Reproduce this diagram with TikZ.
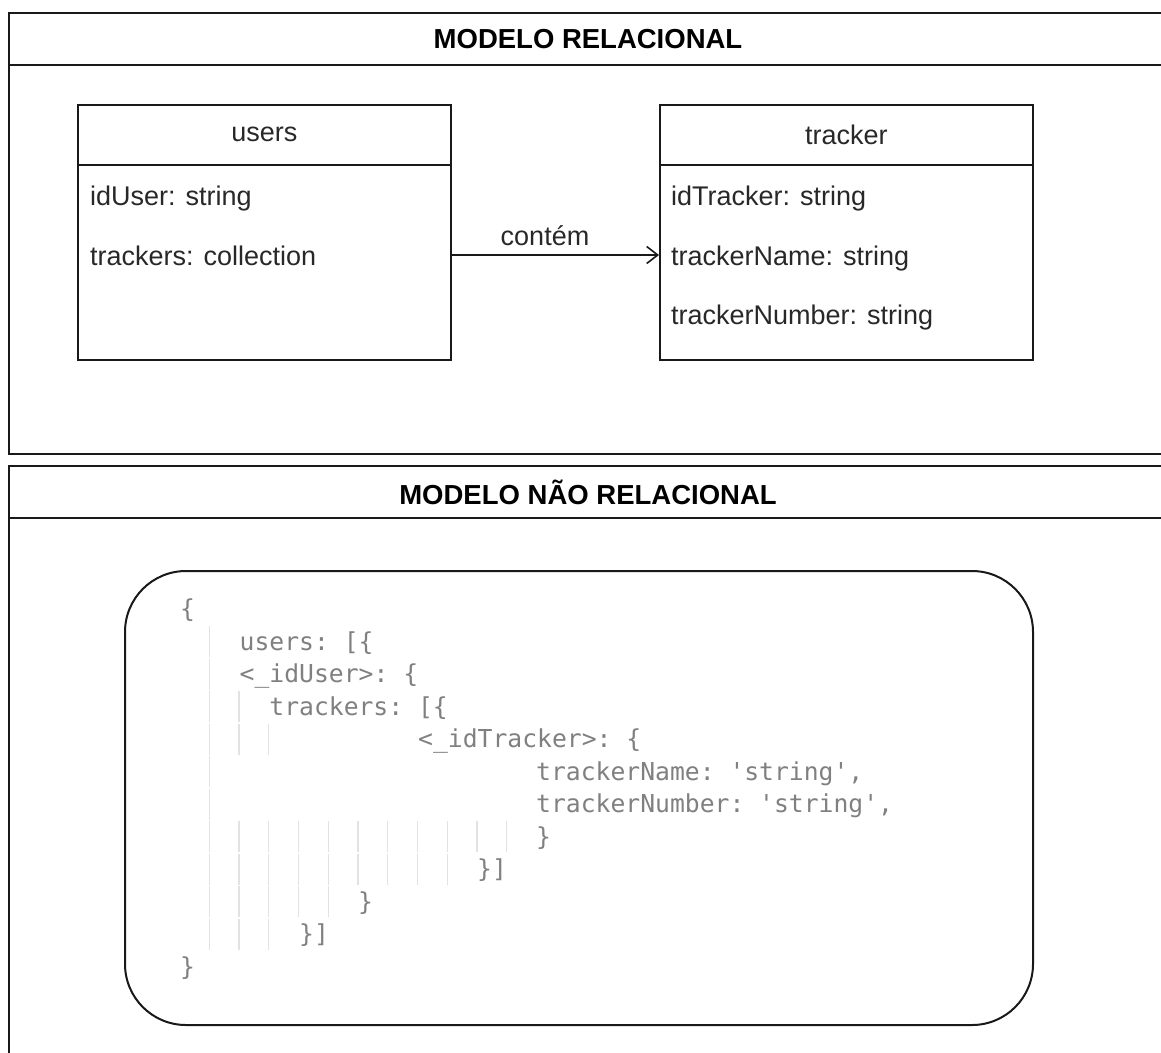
\documentclass[tikz,border=0pt]{standalone}
\usepackage{fontspec}
\setmainfont{Liberation Sans}
\setmonofont{DejaVu Sans Mono}
\usetikzlibrary{arrows.meta}
\definecolor{codegray}{RGB}{128,128,128}
\definecolor{guidegray}{RGB}{226,226,226}
\definecolor{inkc}{RGB}{25,25,25}
\definecolor{txtc}{RGB}{40,40,40}
\begin{document}
\begin{tikzpicture}[x=1pt,y=-1pt,
  panel/.style={draw=inkc,line width=2pt,anchor=north west,inner sep=0pt,fill=white},
  titleband/.style={draw=inkc,line width=2pt,anchor=north west,inner sep=0pt,
    minimum width=1158pt,minimum height=52pt,font=\fontsize{27.5}{30}\selectfont\bfseries},
  entity/.style={draw=inkc,line width=1.6pt,anchor=north west,inner sep=0pt,fill=white,
    minimum width=373pt},
  head/.style={entity,minimum height=60pt,text=txtc,font=\fontsize{27}{30}\selectfont},
  bodybox/.style={entity,minimum height=195pt},
  attr/.style={anchor=base west,inner sep=0pt,text=txtc,font=\fontsize{27}{30}\selectfont},
  codeline/.style={anchor=base west,inner sep=0pt,text=codegray,font=\ttfamily\fontsize{24.7}{30}\selectfont},
  guide/.style={draw=guidegray,line width=1.3pt},
  rel/.style={draw=inkc,line width=1.6pt,-{Straight Barb[length=11pt,width=17pt,line width=1.6pt]}}
]
\useasboundingbox (0,0) rectangle (1161,1052);
\clip (0,0) rectangle (1161,1052);
\fill[white] (0,0) rectangle (1161,1052);

% ---------- top panel ----------
\node[panel,minimum width=1158pt,minimum height=441pt] (toppanel) at (8,12) {};
\node[titleband] (toptitle) at (8,12) {MODELO RELACIONAL};

\node[head] (usershead) at (77,104) {users};
\node[bodybox] (usersbody) at (77,164) {};
\node[attr] (u1) at (90,205) {idUser: string};
\node[attr] (u2) at (90,265) {trackers: collection};

\node[head] (trackhead) at (659,104) {tracker};
\node[bodybox] (trackbody) at (659,164) {};
\node[attr] (t1) at (671,205) {idTracker: string};
\node[attr] (t2) at (671,265) {trackerName: string};
\node[attr] (t3) at (671,324) {trackerNumber: string};

\coordinate (arrS) at (450,255);
\coordinate (arrE) at (659,255);
\draw[rel] (arrS) -- (arrE);
\node[anchor=base,inner sep=0pt,text=txtc,font=\fontsize{27}{30}\selectfont] (lbl) at (545,245) {contém};

% ---------- bottom panel ----------
\node[panel,minimum width=1158pt,minimum height=620pt] (botpanel) at (8,465) {};
\node[titleband] (bottitle) at (8,465) {MODELO NÃO RELACIONAL};

\node[draw=inkc,line width=2pt,rounded corners=61pt,anchor=north west,inner sep=0pt,
  minimum width=908pt,minimum height=454pt] (jsonbox) at (124,570) {};

% indentation guides
\foreach \row/\lev in {1/1,2/1,3/2,4/3,5/1,6/1,7/11,8/9,9/5,10/3}{
  \pgfmathsetmacro{\yb}{650+32.5*(\row-1)}
  \foreach \k in {1,...,\lev}{
    \draw[guide] ({179.5+29.75*\k},{\yb-24}) -- ({179.5+29.75*\k},{\yb+7});
  }
}

% code text
\node[codeline] (c0) at (180,617.5) {\{};
\node[codeline] (c1) at (239.5,650) {users: [\{};
\node[codeline] (c2) at (239.5,682.5) {<\_idUser>: \{};
\node[codeline] (c3) at (269.2,715) {trackers: [\{};
\node[codeline] (c4) at (418,747.5) {<\_idTracker>: \{};
\node[codeline] (c5) at (536,780) {trackerName: 'string',};
\node[codeline] (c6) at (536,812.5) {trackerNumber: 'string',};
\node[codeline] (c7) at (536,845) {\}};
\node[codeline] (c8) at (477,877.5) {\}]};
\node[codeline] (c9) at (358,910) {\}};
\node[codeline] (c10) at (299,942.5) {\}]};
\node[codeline] (c11) at (180,975) {\}};
\end{tikzpicture}
\end{document}
